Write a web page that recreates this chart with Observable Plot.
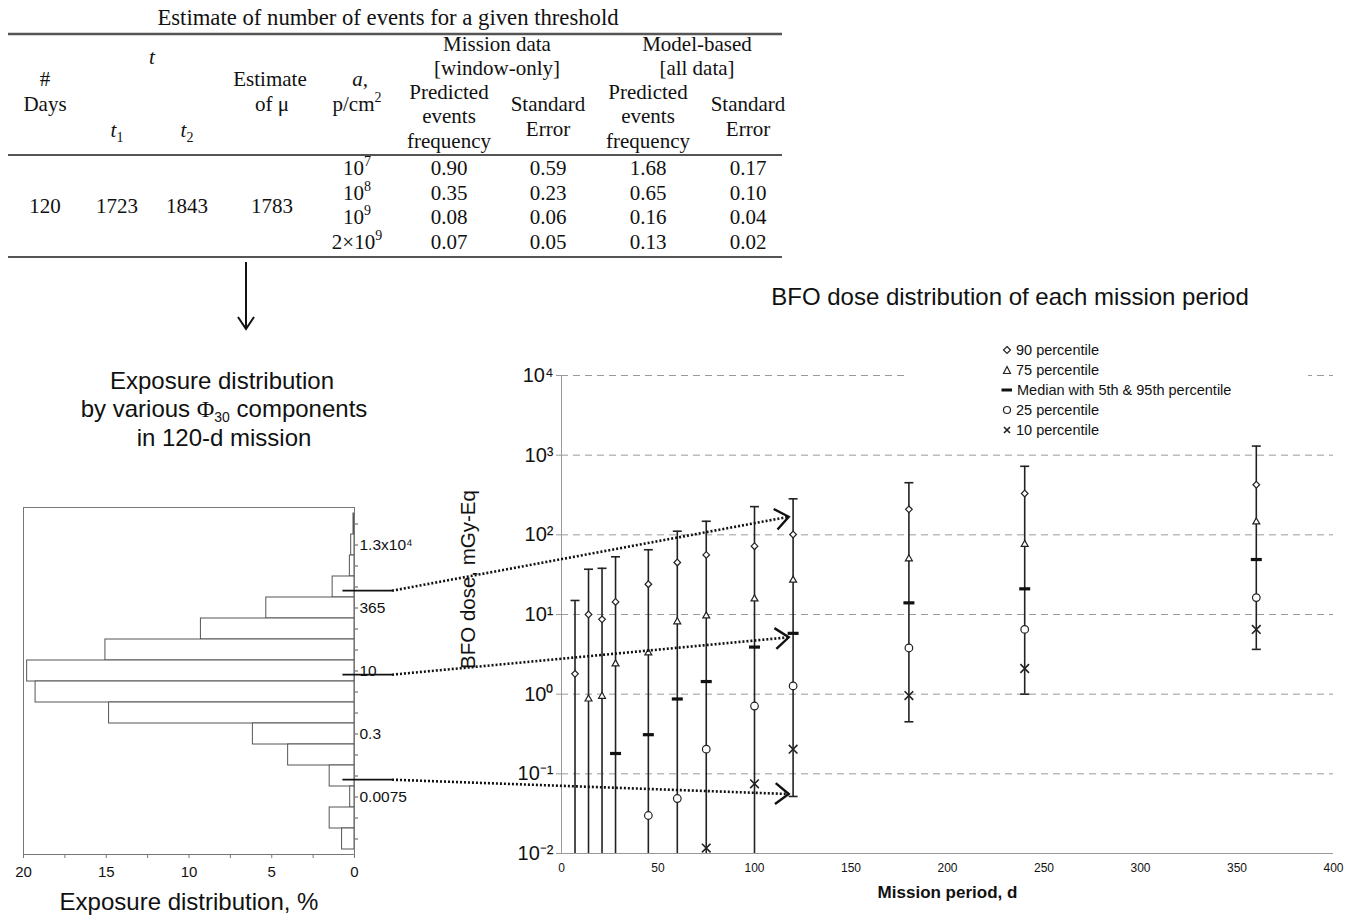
<!DOCTYPE html>
<html>
<head>
<meta charset="utf-8">
<script src="https://cdn.jsdelivr.net/npm/d3@7"></script>
<script src="https://cdn.jsdelivr.net/npm/@observablehq/plot@0.6"></script>
<style>
  body { margin: 0; background: #fff; }
  #page { position: relative; width: 1357px; height: 915px; overflow: hidden; background: #fff;
          font-family: "Liberation Sans", Arial, sans-serif; color: #111; }
  .lbl { position: absolute; transform: translate(-50%, -50%); white-space: nowrap; line-height: 1; }
  #legend { position: absolute; background: #fff; }
  #legend .row { position: absolute; height: 20px; line-height: 20px; font-size: 14.5px; white-space: nowrap; }
  #legend svg { position: absolute; top: 4px; }
</style>
</head>
<body>
<div id="page"></div>
<script>
// ---------------- DATA ----------------
// Table
const tableTitle = "Estimate of number of events for a given threshold";
const tableDays = "120", tableT1 = "1723", tableT2 = "1843", tableMu = "1783";
const tableThresholds = [["10", "7"], ["10", "8"], ["10", "9"], ["2×10", "9"]];
const missionPred = ["0.90", "0.35", "0.08", "0.07"];
const missionSE   = ["0.59", "0.23", "0.06", "0.05"];
const modelPred   = ["1.68", "0.65", "0.16", "0.13"];
const modelSE     = ["0.17", "0.10", "0.04", "0.02"];

// Histogram (exposure distribution, % ; bins from top to bottom)
const histBins = [1, 2, 3, 4, 5, 6, 7, 8, 9, 10, 11, 12, 13, 14, 15, 16];
const histPct  = [0.06, 0.2, 0.28, 1.32, 5.33, 9.28, 15.05, 19.78, 19.27, 14.83, 6.14, 4.01, 1.5, 0.26, 1.5, 0.75];
const histTickLabels = ["", "1.3x10⁴", "", "", "365", "", "", "10", "", "", "0.3", "", "", "0.0075", "", ""];
const histXTicks = [0, 2.5, 5, 7.5, 10, 12.5, 15, 17.5, 20];

// Main chart: BFO dose percentiles by mission period
const periods = [7, 14, 21, 28, 45, 60, 75, 100, 120, 180, 240, 360];
const p95 = [15, 37, 38, 53, 65, 111, 148, 226, 283, 451, 725, 1300];
const p90 = [1.8, 10, 8.7, 14.4, 24, 45, 56, 72, 101, 209, 330, 425];
const p75 = [null, 0.87, 0.94, 2.4, 3.3, 8.1, 9.6, 15.7, 27, 50, 76, 145];
const p50 = [null, null, null, 0.18, 0.31, 0.87, 1.44, 3.9, 5.8, 14, 21, 49];
const p25 = [null, null, null, null, 0.030, 0.049, 0.204, 0.71, 1.27, 3.8, 6.5, 16.3];
const p10 = [null, null, null, null, null, null, 0.0117, 0.075, 0.204, 0.96, 2.1, 6.5];
const p5  = [null, null, null, null, null, null, null, null, 0.052, 0.45, 1.0, 3.65];
const yTicks = [0.01, 0.1, 1, 10, 100, 1000, 10000];
const gridDecades = [0.1, 1, 10, 100, 1000, 10000];
const xTicks = [0, 50, 100, 150, 200, 250, 300, 350, 400];

// Connectors from histogram bins to the chart
const arrowFromBins = [4, 8, 13];
const arrowToDay = [118, 118, 118];
const arrowToDose = [166, 5.1, 0.055];

const legendItems = ["90 percentile", "75 percentile", "Median with 5th & 95th percentile", "25 percentile", "10 percentile"];

// ---------------- PAGE ----------------
const page = document.getElementById("page");
const SANS = "'Liberation Sans', Arial, sans-serif";
const SERIF = "'Liberation Serif', 'Times New Roman', serif";

function label(html, x, y, size, extra = "") {
  const d = document.createElement("div");
  d.className = "lbl";
  d.style.left = x + "px"; d.style.top = y + "px";
  d.style.fontSize = size + "px";
  d.style.cssText += extra;
  d.innerHTML = html;
  page.appendChild(d);
  return d;
}

// ---------------- TABLE ----------------
const tbl = d3.create("svg").attr("width", 800).attr("height", 262)
  .style("position", "absolute").style("left", "0px").style("top", "0px")
  .attr("font-family", SERIF).attr("font-size", 21).attr("fill", "#111").attr("text-anchor", "middle");

function ttext(x, y, parts, size) {
  const t = tbl.append("text").attr("x", x).attr("y", y);
  if (size) t.attr("font-size", size);
  let shift = 0;
  for (const [s, kind] of parts) {
    const sp = t.append("tspan").text(s);
    let target = 0;
    if (kind === "sup") { sp.attr("font-size", 14); target = -9; }
    else if (kind === "sub") { sp.attr("font-size", 14); target = 5; }
    else if (kind === "it") { sp.attr("font-style", "italic"); }
    if (target !== shift) { sp.attr("dy", target - shift); shift = target; }
  }
  return t;
}
ttext(388, 25, [[tableTitle]], 22.7);
[[34, 2.5], [155, 2], [257, 2]].forEach(([y, w]) =>
  tbl.append("line").attr("x1", 8).attr("x2", 782).attr("y1", y).attr("y2", y).attr("stroke", "#555").attr("stroke-width", w));

ttext(152, 64, [["t", "it"]]);
ttext(45, 86, [["#"]]); ttext(45, 111, [["Days"]]);
ttext(117, 137, [["t", "it"], ["1", "sub"]]);
ttext(187, 137, [["t", "it"], ["2", "sub"]]);
ttext(270, 86, [["Estimate"]]); ttext(272, 111, [["of μ"]]);
ttext(360, 86, [["a,", "it"]]); ttext(357, 111, [["p/cm"], ["2", "sup"]]);
ttext(497, 51, [["Mission data"]]); ttext(497, 75, [["[window-only]"]]);
ttext(449, 99, [["Predicted"]]); ttext(449, 123, [["events"]]); ttext(449, 148, [["frequency"]]);
ttext(548, 111, [["Standard"]]); ttext(548, 136, [["Error"]]);
ttext(697, 51, [["Model-based"]]); ttext(697, 75, [["[all data]"]]);
ttext(648, 99, [["Predicted"]]); ttext(648, 123, [["events"]]); ttext(648, 148, [["frequency"]]);
ttext(748, 111, [["Standard"]]); ttext(748, 136, [["Error"]]);
ttext(45, 213, [[tableDays]]); ttext(117, 213, [[tableT1]]); ttext(187, 213, [[tableT2]]); ttext(272, 213, [[tableMu]]);
const rowBase = [175, 200, 224, 249];
tableThresholds.forEach((th, i) => {
  ttext(357, rowBase[i], [[th[0]], [th[1], "sup"]]);
  ttext(449, rowBase[i], [[missionPred[i]]]);
  ttext(548, rowBase[i], [[missionSE[i]]]);
  ttext(648, rowBase[i], [[modelPred[i]]]);
  ttext(748, rowBase[i], [[modelSE[i]]]);
});
page.appendChild(tbl.node());

// ---------------- HISTOGRAM ----------------
const HIST = {left: 0, top: 490, width: 460, height: 425};
const histRows = histBins.map((b, i) => ({bin: b, pct: histPct[i]}));
const hist = Plot.plot({
  width: HIST.width, height: HIST.height,
  marginLeft: 23, marginRight: 106, marginTop: 17, marginBottom: 61,
  style: {fontFamily: SANS, color: "#111", background: "transparent", overflow: "visible"},
  x: {domain: [20, 0]},
  y: {type: "band", domain: histBins, padding: 0},
  marks: [
    Plot.barX(histRows, {x1: 0, x2: "pct", y: "bin", fill: "white", stroke: "#555", strokeWidth: 1}),
    Plot.frame({stroke: "#777"}),
    Plot.axisX({ticks: histXTicks, tickFormat: d => d % 5 === 0 ? String(d) : "", tickSize: 4, tickPadding: 8,
                fontSize: 15, stroke: "#777", label: null}),
    Plot.axisY({anchor: "right", tickFormat: d => histTickLabels[d - 1], tickSize: 3, tickPadding: 2,
                fontSize: 15.5, stroke: "#555", label: null})
  ]
});
hist.style.position = "absolute"; hist.style.left = HIST.left + "px"; hist.style.top = HIST.top + "px";
page.appendChild(hist);

label("Exposure distribution", 222, 381, 24);
label("by various <span style=\"font-family:" + SERIF.replace(/'/g, "") + "\">Φ</span><span style=\"font-size:14px;position:relative;top:5px\">30</span> components", 224, 409, 24);
label("in 120-d mission", 224, 438, 24);
label("Exposure distribution, %", 189, 902, 24);

// ---------------- MAIN CHART ----------------
const MAIN = {left: 440, top: 330, width: 917, height: 585};
const rows = periods.map((p, i) => ({period: p, p95: p95[i], p90: p90[i], p75: p75[i], p50: p50[i], p25: p25[i], p10: p10[i], p5: p5[i]}));
const yMin = yTicks[0];
const sup = {"-2": "⁻²", "-1": "⁻¹", "0": "⁰", "1": "¹", "2": "²", "3": "³", "4": "⁴"};
const hLine = {draw(ctx, size) { const r = Math.sqrt(size / Math.PI); ctx.moveTo(-r, 0); ctx.lineTo(r, 0); }};
const has = k => rows.filter(d => d[k] != null);

const main = Plot.plot({
  width: MAIN.width, height: MAIN.height,
  marginLeft: 121, marginRight: 24, marginTop: 45, marginBottom: 62,
  style: {fontFamily: SANS, color: "#111", background: "transparent", overflow: "visible"},
  x: {domain: [0, 400]},
  y: {type: "log", domain: [yMin, 10000]},
  marks: [
    Plot.ruleY(gridDecades, {stroke: "#9a9a9a", strokeDasharray: "7,5", strokeWidth: 1}),
    Plot.ruleX([0], {stroke: "#999"}),
    Plot.ruleY([yMin], {stroke: "#999"}),
    Plot.axisY({ticks: yTicks, tickFormat: d => "10" + sup[Math.round(Math.log10(d))], tickSize: 5, tickPadding: 3,
                fontSize: 20, stroke: "#999", label: null}),
    Plot.axisX({ticks: xTicks, tickSize: 0, tickPadding: 10, fontSize: 12, label: null}),
    Plot.text(["Mission period, d"], {frameAnchor: "bottom", dy: 44, fontWeight: "bold", fontSize: 17}),
    Plot.text(["BFO dose, mGy-Eq"], {frameAnchor: "left", rotate: -90, textAnchor: "middle", dx: -93, dy: -35, fontSize: 20.5}),
    Plot.ruleX(rows, {x: "period", y1: d => d.p5 ?? yMin, y2: "p95", stroke: "#222", strokeWidth: 1.6}),
    Plot.dot(rows, {x: "period", y: "p95", symbol: hLine, r: 4.5, fill: "none", stroke: "#222", strokeWidth: 1.6}),
    Plot.dot(has("p5"), {x: "period", y: "p5", symbol: hLine, r: 4.5, fill: "none", stroke: "#222", strokeWidth: 1.6}),
    Plot.dot(has("p50"), {x: "period", y: "p50", symbol: hLine, r: 5.5, fill: "none", stroke: "#111", strokeWidth: 3.2}),
    Plot.dot(has("p90"), {x: "period", y: "p90", symbol: "diamond2", r: 3, fill: "white", stroke: "#222", strokeWidth: 1.2}),
    Plot.dot(has("p75"), {x: "period", y: "p75", symbol: "triangle2", r: 3.3, fill: "white", stroke: "#222", strokeWidth: 1.2}),
    Plot.dot(has("p25"), {x: "period", y: "p25", symbol: "circle", r: 3.8, fill: "white", stroke: "#222", strokeWidth: 1.2}),
    Plot.dot(has("p10"), {x: "period", y: "p10", symbol: "times", r: 4, fill: "none", stroke: "#222", strokeWidth: 1.6})
  ]
});
main.style.position = "absolute"; main.style.left = MAIN.left + "px"; main.style.top = MAIN.top + "px";
page.appendChild(main);

label("BFO dose distribution of each mission period", 1010, 297, 24);

// Legend
const legend = document.createElement("div");
legend.id = "legend";
Object.assign(legend.style, {left: "905px", top: "338px", width: "403px", height: "104px"});
const legendSymbols = [
  '<polygon points="6,2.5 9.5,6 6,9.5 2.5,6" fill="white" stroke="#222" stroke-width="1.2"/>',
  '<polygon points="6,2.5 9.5,9.5 2.5,9.5" fill="white" stroke="#222" stroke-width="1.2"/>',
  '<line x1="0.5" y1="6" x2="11" y2="6" stroke="#111" stroke-width="3"/>',
  '<circle cx="6" cy="6" r="3.5" fill="white" stroke="#222" stroke-width="1.2"/>',
  '<path d="M3,3L9,9M9,3L3,9" stroke="#222" stroke-width="1.6"/>'
];
legendItems.forEach((txt, i) => {
  const r = document.createElement("div");
  r.className = "row";
  r.style.top = (2 + i * 20) + "px"; r.style.left = "96px";
  r.innerHTML = '<svg width="12" height="12" style="left:0">' + legendSymbols[i] + '</svg><span style="position:absolute;left:' + (i === 2 ? 16 : 15) + 'px">' + txt + '</span>';
  legend.appendChild(r);
});
page.appendChild(legend);

// ---------------- CONNECTORS ----------------
const ov = d3.create("svg").attr("width", 1357).attr("height", 915)
  .style("position", "absolute").style("left", "0px").style("top", "0px").style("pointer-events", "none");
const hx = hist.scale("x"), hy = hist.scale("y");
const mx = main.scale("x"), my = main.scale("y");
const frameRight = HIST.left + hx.apply(0);
arrowFromBins.forEach((b, i) => {
  const y0 = HIST.top + hy.apply(b) + hy.bandwidth * 0.7;
  const xs = HIST.left + hx.apply(0.7);
  const xm = frameRight + 38;
  const xe = MAIN.left + mx.apply(arrowToDay[i]);
  const ye = MAIN.top + my.apply(arrowToDose[i]);
  ov.append("line").attr("x1", xs).attr("x2", xm).attr("y1", y0).attr("y2", y0).attr("stroke", "#111").attr("stroke-width", 1.8);
  ov.append("line").attr("x1", xm).attr("x2", xe).attr("y1", y0).attr("y2", ye)
    .attr("stroke", "#111").attr("stroke-width", 2.6).attr("stroke-dasharray", "2,2");
  const a = Math.atan2(ye - y0, xe - xm), L = 17, w = 38 * Math.PI / 180;
  ov.append("polyline")
    .attr("points", [[xe - L * Math.cos(a - w), ye - L * Math.sin(a - w)], [xe, ye], [xe - L * Math.cos(a + w), ye - L * Math.sin(a + w)]].map(p => p.join(",")).join(" "))
    .attr("fill", "none").attr("stroke", "#111").attr("stroke-width", 2.4);
});
// down arrow from table to histogram panel
ov.append("line").attr("x1", 246).attr("x2", 246).attr("y1", 262).attr("y2", 329).attr("stroke", "#111").attr("stroke-width", 2);
ov.append("polyline").attr("points", "238,317 246,329 254,317").attr("fill", "none").attr("stroke", "#111").attr("stroke-width", 2);
page.appendChild(ov.node());
</script>
</body>
</html>
